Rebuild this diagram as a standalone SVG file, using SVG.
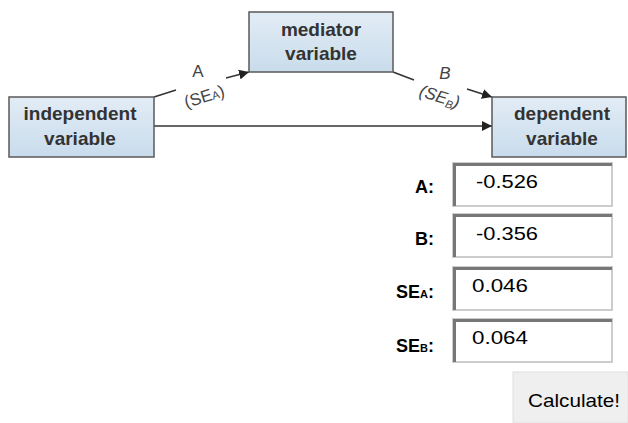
<svg xmlns="http://www.w3.org/2000/svg" width="628" height="423" viewBox="0 0 628 423">
<style>
.node{fill:url(#g);stroke:#5a5a5a;stroke-width:1.5}
.nt{font-family:"Liberation Sans",Arial,sans-serif;font-weight:bold;font-size:19px;fill:#333;text-anchor:middle}
.con{stroke:#333;stroke-width:1.5;fill:none}
.el{font-family:"Liberation Sans",Arial,sans-serif;font-size:17px;fill:#444}
.lbl{font-family:"Liberation Sans",Arial,sans-serif;font-weight:bold;font-size:18px;fill:#000;text-anchor:end}
.val{font-family:"Liberation Sans",Arial,sans-serif;font-size:19px;fill:#000}
.inp{fill:#fff;stroke:#ccc;stroke-width:2}
.ins{stroke:#777;stroke-width:3;fill:none}
</style>
<defs>
<linearGradient id="g" x1="0" y1="0" x2="0" y2="1">
<stop offset="0" stop-color="#e2ecf5"/>
<stop offset="1" stop-color="#c9dcec"/>
</linearGradient>
<marker id="ah2" viewBox="0 0 10 10" refX="10" refY="5" markerWidth="10" markerHeight="10" orient="auto" markerUnits="userSpaceOnUse">
<path d="M0,0 L10,5 L0,10 z" fill="#222"/>
</marker>
</defs>
<g id="connectors">
<line class="con" x1="154" y1="126" x2="492" y2="126" marker-end="url(#ah2)"/>
<line class="con" x1="154" y1="97" x2="176" y2="90"/>
<line class="con" x1="226" y1="78" x2="249" y2="72" marker-end="url(#ah2)"/>
<line class="con" x1="393" y1="72" x2="414" y2="80"/>
<line class="con" x1="467" y1="89" x2="492" y2="97" marker-end="url(#ah2)"/>
<text class="el" x="198" y="77" text-anchor="middle" font-size="18">A</text>
<text class="el" transform="translate(206,102) rotate(-17)" text-anchor="middle" font-size="18">(SE<tspan font-size="11">A</tspan>)</text>
<text class="el" x="445" y="79" text-anchor="middle" font-style="italic" font-size="18">B</text>
<text class="el" transform="translate(438,102) rotate(17)" text-anchor="middle" font-style="italic" font-size="18">(SE<tspan font-size="11" dy="3">B</tspan><tspan dy="-3">)</tspan></text>
</g>
<g id="independent">
<rect class="node" x="9" y="97" width="145" height="60"/>
<text class="nt" x="80" y="120">independent</text>
<text class="nt" x="80" y="145">variable</text>
</g>
<g id="mediator">
<rect class="node" x="249" y="12" width="144" height="60"/>
<text class="nt" x="321" y="36">mediator</text>
<text class="nt" x="321" y="60">variable</text>
</g>
<g id="dependent">
<rect class="node" x="492" y="97" width="134" height="60"/>
<text class="nt" x="562" y="120">dependent</text>
<text class="nt" x="562" y="145">variable</text>
</g>
<g id="form">
<text class="lbl" x="434" y="193">A:</text>
<rect class="inp" x="453" y="163" width="159" height="43"/>
<path class="ins" d="M454.5,206 V164.5 H612"/>
<text class="val" x="476" y="188" textLength="62" lengthAdjust="spacingAndGlyphs">-0.526</text>
<text class="lbl" x="434" y="245">B:</text>
<rect class="inp" x="453" y="214" width="159" height="43"/>
<path class="ins" d="M454.5,257 V215.5 H612"/>
<text class="val" x="476" y="240" textLength="62" lengthAdjust="spacingAndGlyphs">-0.356</text>
<text class="lbl" x="434" y="298">SE<tspan font-size="11">A</tspan>:</text>
<rect class="inp" x="453" y="267" width="159" height="43"/>
<path class="ins" d="M454.5,310 V268.5 H612"/>
<text class="val" x="472" y="292" textLength="56" lengthAdjust="spacingAndGlyphs">0.046</text>
<text class="lbl" x="434" y="352">SE<tspan font-size="11">B</tspan>:</text>
<rect class="inp" x="453" y="319" width="159" height="43"/>
<path class="ins" d="M454.5,362 V320.5 H612"/>
<text class="val" x="472" y="344" textLength="56" lengthAdjust="spacingAndGlyphs">0.064</text>
<rect x="513" y="372" width="115" height="51" fill="#efefef" stroke="#e0e0e0" stroke-width="1"/>
<text class="val" x="574" y="407" text-anchor="middle" font-size="21" textLength="92" lengthAdjust="spacingAndGlyphs">Calculate!</text>
</g>
</svg>
